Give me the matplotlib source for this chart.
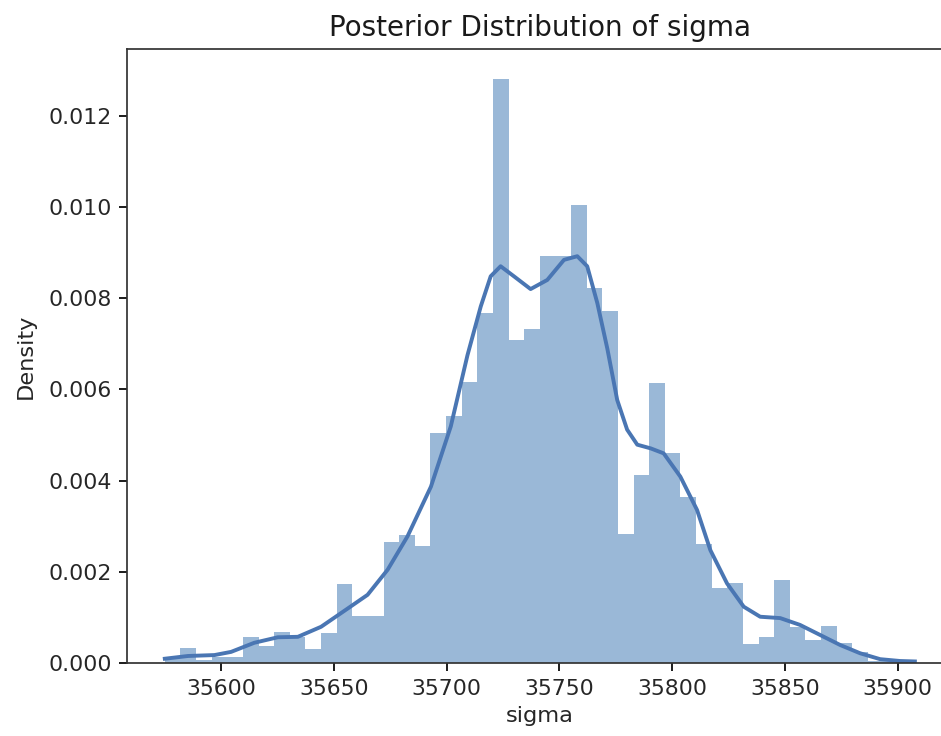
import matplotlib.pyplot as plt
import numpy as np

# histogram of posterior sigma samples (density, x 1e-3)
sigma_min = 35575.0
sigma_max = 35907.6
density = [0.12, 0.34, 0.07, 0.13, 0.14, 0.58, 0.38, 0.69, 0.57, 0.31,
           0.66, 1.74, 1.03, 1.03, 2.66, 2.81, 2.56, 5.04, 5.41, 6.17,
           7.67, 12.81, 7.09, 7.33, 8.92, 8.92, 10.05, 8.22, 7.71, 2.84,
           4.13, 6.14, 4.60, 3.64, 2.62, 1.64, 1.75, 0.42, 0.58, 1.83,
           0.79, 0.50, 0.81, 0.45, 0.25, 0.05, 0.08, 0.08]

# kde curve (x, density x 1e-3)
kde_x = [35575.0, 35585.3, 35597.0, 35604.4, 35614.7, 35625.1, 35634.0, 35644.3,
         35656.1, 35664.9, 35673.8, 35682.6, 35693.0, 35701.8, 35709.2, 35715.1,
         35719.5, 35723.9, 35729.8, 35737.2, 35744.6, 35752.0, 35757.9, 35762.3,
         35766.8, 35771.2, 35775.6, 35780.0, 35784.5, 35790.4, 35796.2, 35803.6,
         35811.0, 35816.9, 35824.3, 35831.7, 35839.0, 35847.9, 35856.7, 35865.6,
         35874.5, 35883.3, 35892.2, 35901.0, 35907.6]
kde_y = [0.10, 0.16, 0.18, 0.25, 0.45, 0.57, 0.58, 0.80,
         1.20, 1.50, 2.05, 2.78, 3.87, 5.19, 6.75, 7.82,
         8.48, 8.70, 8.48, 8.20, 8.40, 8.84, 8.92, 8.70,
         7.89, 6.90, 5.77, 5.12, 4.79, 4.71, 4.60, 4.09,
         3.36, 2.48, 1.75, 1.24, 1.02, 0.99, 0.84, 0.62,
         0.40, 0.22, 0.09, 0.05, 0.04]

bar_color = "#9ab8d7"
line_color = "#4a76b3"

fig = plt.figure(figsize=(9.41, 7.36), dpi=100)
ax = fig.add_axes([0.1353, 0.0988, 0.8768, 0.834])

edges = np.linspace(sigma_min, sigma_max, len(density) + 1)
ax.bar(edges[:-1], np.array(density) * 1e-3, width=np.diff(edges),
       align="edge", color=bar_color, linewidth=0)
ax.plot(kde_x, np.array(kde_y) * 1e-3, color=line_color, linewidth=2.8,
        solid_joinstyle="round")

ax.set_yticks([0, 0.002, 0.004, 0.006, 0.008, 0.010, 0.012])
ax.set_xticks([35600, 35650, 35700, 35750, 35800, 35850, 35900])
ax.tick_params(labelsize=15.8, length=5.5, width=1.25, pad=5.5,
               labelcolor="#262626")
for s in ax.spines.values():
    s.set_linewidth(1.25)
    s.set_color("#333333")

ax.set_title("Posterior Distribution of sigma", fontsize=20, pad=9.5,
             color="#1a1a1a")
ax.set_xlabel("sigma", fontsize=16.2, labelpad=5, color="#262626")
ax.set_ylabel("Density", fontsize=16.2, labelpad=9, color="#262626")

fig.savefig("out.png", dpi=100)
